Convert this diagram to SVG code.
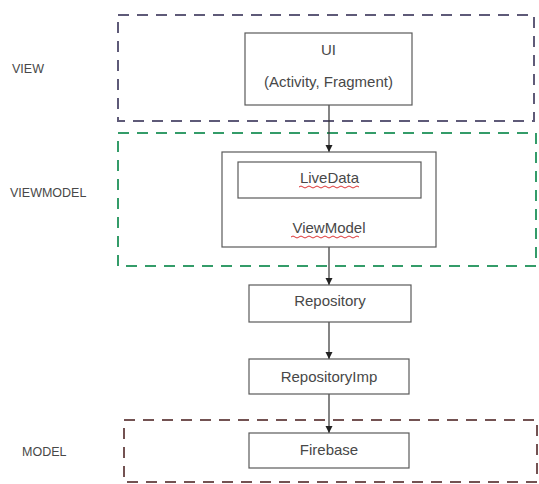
<svg xmlns="http://www.w3.org/2000/svg" width="539" height="484" viewBox="0 0 539 484">
<style>
.bg{fill:#fff}
.box{fill:#fff;stroke:#5a5a5a;stroke-width:1.2}
.t{font-family:"Liberation Sans",Arial,sans-serif;font-size:15px;fill:#484848;text-anchor:middle}
.lbl{font-family:"Liberation Sans",Arial,sans-serif;font-size:12.5px;fill:#484848}
.zone{fill:none;stroke-width:2;stroke-dasharray:11 8}
.conn{stroke:#333;stroke-width:1.2;fill:none;marker-end:url(#ah)}
.sq{fill:none;stroke:#d33;stroke-width:1}
</style>
<defs>
<marker id="ah" markerWidth="8" markerHeight="8" refX="7" refY="4" orient="auto" markerUnits="userSpaceOnUse">
<path d="M0,0.5 L7,4 L0,7.5 Z" fill="#222"/>
</marker>
</defs>
<rect class="bg" width="539" height="484"/>
<g id="zones">
<rect id="zone-view" class="zone" x="118" y="15" width="416" height="106" stroke="#5e5a78"/>
<rect id="zone-viewmodel" class="zone" x="118" y="133" width="418" height="133" stroke="#349c69"/>
<rect id="zone-model" class="zone" x="124" y="420" width="413" height="62" stroke="#735252"/>
</g>
<g id="labels">
<text class="lbl" x="12" y="73">VIEW</text>
<text class="lbl" x="10" y="197">VIEWMODEL</text>
<text class="lbl" x="22" y="456">MODEL</text>
</g>
<g id="connectors">
<line class="conn" x1="329" y1="105" x2="329" y2="152"/>
<line class="conn" x1="329" y1="247" x2="329" y2="285"/>
<line class="conn" x1="329" y1="322" x2="329" y2="359"/>
<line class="conn" x1="329" y1="394" x2="329" y2="433"/>
</g>
<g id="node-ui">
<rect class="box" x="245" y="33" width="167" height="72"/>
<text class="t" x="328.5" y="55">UI</text>
<text class="t" x="328.5" y="87">(Activity, Fragment)</text>
</g>
<g id="node-viewmodel">
<rect class="box" x="222" y="152" width="214" height="95"/>
<text class="t" x="329" y="233">ViewModel</text>
<path class="sq" d="M291,237 q2,-2 4,0 t4,0 t4,0 t4,0 t4,0 t4,0 t4,0 t4,0 t4,0 t4,0 t4,0 t4,0 t4,0 t4,0 t4,0 t4,0 t4,0"/>
</g>
<g id="node-livedata">
<rect class="box" x="238" y="162" width="183" height="36"/>
<text class="t" x="329.5" y="183">LiveData</text>
<path class="sq" d="M299,187 q2,-2 4,0 t4,0 t4,0 t4,0 t4,0 t4,0 t4,0 t4,0 t4,0 t4,0 t4,0 t4,0 t4,0 t4,0 t4,0"/>
</g>
<g id="node-repository">
<rect class="box" x="249" y="285" width="162" height="37"/>
<text class="t" x="330" y="306">Repository</text>
</g>
<g id="node-repositoryimp">
<rect class="box" x="249" y="359" width="160" height="35"/>
<text class="t" x="329" y="382">RepositoryImp</text>
</g>
<g id="node-firebase">
<rect class="box" x="249" y="433" width="160" height="35"/>
<text class="t" x="329" y="455">Firebase</text>
</g>
</svg>
